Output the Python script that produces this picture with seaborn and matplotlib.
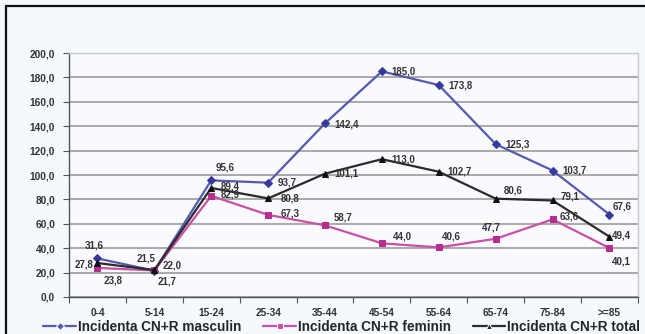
import matplotlib
matplotlib.use("Agg")
import matplotlib.pyplot as plt
from matplotlib.ticker import FuncFormatter, MultipleLocator
from matplotlib.lines import Line2D
import seaborn as sns
import pandas as pd

categories = ["0-4", "5-14", "15-24", "25-34", "35-44", "45-54", "55-64", "65-74", "75-84", ">=85"]
masculin = [31.6, 21.5, 95.6, 93.7, 142.4, 185.0, 173.8, 125.3, 103.7, 67.6]
feminin = [23.8, 21.7, 82.9, 67.3, 58.7, 44.0, 40.6, 47.7, 63.6, 40.1]
total = [27.8, 22.0, 89.4, 80.8, 101.1, 113.0, 102.7, 80.6, 79.1, 49.4]
series_names = ["Incidenta CN+R masculin", "Incidenta CN+R feminin", "Incidenta CN+R total"]

# label offsets in points (dx, dy, ha)
off_m = [(-2, 9, "center"), (-6, 9, "center"), (10, 9, "center"), (7, 0, "left"), (7, -1, "left"),
         (7, 0, "left"), (7, 0, "left"), (7, 0, "left"), (7, 0, "left"), (2, 6, "left")]
off_f = [(11, -9, "center"), (9, -8, "center"), (7, 1, "left"), (9, 1, "left"), (6, 6, "left"),
         (8, 5, "left"), (2, 8, "left"), (-10, 8, "left"), (5, 2, "left"), (2, -10, "left")]
off_t = [(-3, -1, "right"), (6, 3, "left"), (7, 1, "left"), (9, 0, "left"), (7, 0, "left"),
         (7, 0, "left"), (6, 0, "left"), (6, 6, "left"), (6, 3, "left"), (2, 1, "left")]

colors = ["#5659B0", "#CC4FA6", "#2B2B2B"]
mcolors = ["#35399A", "#B3308E", "#111111"]

df = pd.DataFrame({
    "cat": categories * 3,
    "val": masculin + feminin + total,
    "serie": [series_names[0]] * 10 + [series_names[1]] * 10 + [series_names[2]] * 10,
})

sns.set_theme(style="white")
plt.rcParams["font.family"] = ["Liberation Sans", "DejaVu Sans"]

bg = "#F5F8FC"
fig = plt.figure(figsize=(6.45, 3.34), dpi=100, facecolor=bg)
ax = fig.add_axes([0.107, 0.111, 0.882, 0.730])
ax.set_facecolor("#F8FAFD")

sns.lineplot(data=df, x="cat", y="val", hue="serie", style="serie",
             palette=colors, markers=["D", "s", "^"], dashes=False,
             markersize=4.5, linewidth=1.6, ax=ax, sort=False, legend=True)

for line, mc in zip(ax.lines[:3], mcolors):
    line.set_markerfacecolor(mc)
    line.set_markeredgecolor(mc)

def fmt(v):
    return f"{v:.1f}".replace(".", ",")

for vals, offs in ((masculin, off_m), (feminin, off_f), (total, off_t)):
    for i, (v, (dx, dy, ha)) in enumerate(zip(vals, offs)):
        ax.annotate(fmt(v), (i, v), xytext=(dx, dy), textcoords="offset points",
                    ha=ha, va="center", fontsize=7, fontweight="bold", color="#333333")

ax.set_ylim(0, 200)
ax.set_xlim(-0.5, 9.5)
ax.yaxis.set_major_locator(MultipleLocator(20))
ax.yaxis.set_major_formatter(FuncFormatter(lambda v, p: f"{v:.1f}".replace(".", ",")))
ax.grid(axis="y", color="#A3A3A3", linewidth=1.3)
ax.set_axisbelow(True)
ax.set_xlabel("")
ax.set_ylabel("")

for s in ("top", "right"):
    ax.spines[s].set_color("#C8C8C8")
    ax.spines[s].set_linewidth(1.0)
ax.spines["left"].set_color("#555555")
ax.spines["bottom"].set_color("#555555")
ax.spines["left"].set_linewidth(1.0)
ax.spines["bottom"].set_linewidth(1.0)

ax.tick_params(axis="y", left=True, length=4, width=0.8, color="#555555",
               labelsize=7.3, labelcolor="#333333", pad=6)
ax.tick_params(axis="x", which="major", bottom=False, labelsize=7.3, labelcolor="#333333", pad=2)
for lbl in ax.get_yticklabels() + ax.get_xticklabels():
    lbl.set_fontweight("bold")
# minor ticks between categories
ax.set_xticks([i + 0.5 for i in range(-1, 10)], minor=True)
ax.tick_params(axis="x", which="minor", bottom=True, length=4, width=0.8, color="#555555")

handles, labels = ax.get_legend_handles_labels()
ax.get_legend().remove()
fig.legend(handles, labels, loc="center", bbox_to_anchor=(0.53, 0.022), ncol=3,
           frameon=False, handlelength=2.4, handletextpad=0.15,
           columnspacing=1.6, prop={"weight": "bold", "size": 9.8})

# outer frame: top and left edges
fig.lines.append(Line2D([0.0095, 1.0], [0.982, 0.982], transform=fig.transFigure,
                        color="#111111", linewidth=1.6))
fig.lines.append(Line2D([0.0095, 0.0095], [0.0, 0.982], transform=fig.transFigure,
                        color="#111111", linewidth=1.6))

fig.savefig("out.png", dpi=100, facecolor=bg)
